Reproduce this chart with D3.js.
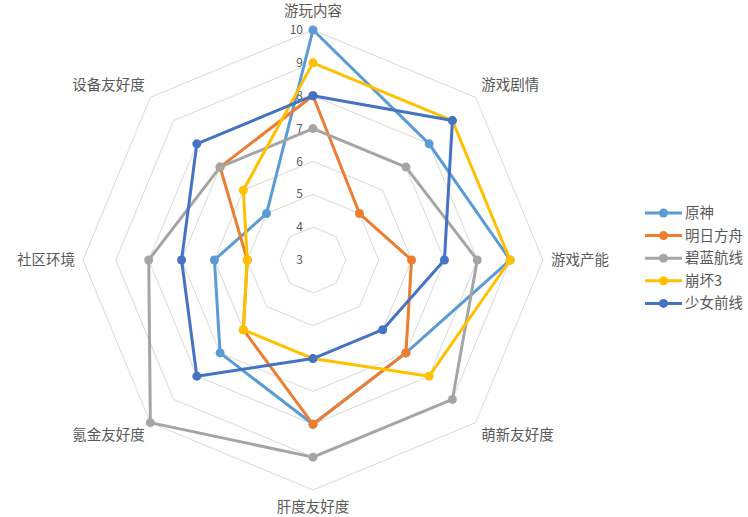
<!DOCTYPE html>
<html>
<head>
<meta charset="utf-8">
<script src="https://cdn.jsdelivr.net/npm/d3@7"></script>
<style>
  body { margin: 0; background: #fff; }
  text { font-family: "Noto Sans CJK SC", "Noto Sans", sans-serif; fill: #595959; }
</style>
</head>
<body>
<div id="chart"></div>
<script>
// axes, clockwise from the top
var axes = ["游玩内容", "游戏剧情", "游戏产能", "萌新友好度", "肝度友好度", "氪金友好度", "社区环境", "设备友好度"];
var ticks = [3, 4, 5, 6, 7, 8, 9, 10];

var seriesNames = ["原神", "明日方舟", "碧蓝航线", "崩坏3", "少女前线"];
var yuanshen = [10, 8, 9, 7, 8, 7, 6, 5];
var mingri = [8, 5, 6, 7, 8, 6, 5, 7];
var bilan = [7, 7, 8, 9, 9, 10, 8, 7];
var benghuai = [9, 9, 9, 8, 6, 6, 5, 6];
var shaonv = [8, 9, 7, 6, 6, 8, 7, 8];
var colors = ["#5B9BD5", "#ED7D31", "#A5A5A5", "#FFC000", "#4472C4"];

var series = [yuanshen, mingri, bilan, benghuai, shaonv];

var width = 748, height = 517;
var cx = 313, cy = 260, R = 230;

var svg = d3.select("#chart")
  .append("svg")
  .attr("width", width)
  .attr("height", height);

var r = d3.scaleLinear().domain([3, 10]).range([0, R]);
var angle = d3.scalePoint().domain(d3.range(axes.length)).range([0, 2 * Math.PI * (axes.length - 1) / axes.length]);

function pt(i, v) {
  var a = angle(i);
  return [cx + r(v) * Math.sin(a), cy - r(v) * Math.cos(a)];
}

// grid octagons
var grid = svg.append("g");
ticks.filter(function(t) { return t > 3; }).forEach(function(t) {
  grid.append("path")
    .attr("d", d3.line()(axes.map(function(_, i) { return pt(i, t); })) + "Z")
    .attr("fill", "none")
    .attr("stroke", "#D9D9D9")
    .attr("stroke-width", 1);
});

// tick labels along the top axis
svg.append("g").selectAll("text")
  .data(ticks)
  .enter()
  .append("text")
  .attr("x", cx - 10)
  .attr("y", function(d) { return cy - r(d); })
  .attr("dy", "0.35em")
  .attr("text-anchor", "end")
  .style("font-size", "12px")
  .text(function(d) { return d; });

// axis labels
svg.append("g").selectAll("text")
  .data(axes)
  .enter()
  .append("text")
  .attr("x", function(d, i) {
    var s = Math.sin(angle(i));
    return pt(i, 10)[0] + s * 8;
  })
  .attr("y", function(d, i) {
    var c = Math.cos(angle(i));
    // top label sits a little higher to clear the "10" tick
    return pt(i, 10)[1] - c * (i === 0 ? 19.5 : 17);
  })
  .attr("dy", "0.35em")
  .attr("text-anchor", function(d, i) {
    var s = Math.sin(angle(i));
    return s > 0.1 ? "start" : (s < -0.1 ? "end" : "middle");
  })
  .style("font-size", "14.5px")
  .text(function(d) { return d; });

// series lines and markers
series.forEach(function(vals, k) {
  var g = svg.append("g");
  var pts = vals.map(function(v, i) { return pt(i, v); });
  g.append("path")
    .attr("d", d3.line()(pts) + "Z")
    .attr("fill", "none")
    .attr("stroke", colors[k])
    .attr("stroke-width", 3)
    .attr("stroke-linejoin", "round");
  g.selectAll("circle")
    .data(pts)
    .enter()
    .append("circle")
    .attr("cx", function(d) { return d[0]; })
    .attr("cy", function(d) { return d[1]; })
    .attr("r", 4.5)
    .attr("fill", colors[k]);
});

// legend
var legend = svg.append("g");
seriesNames.forEach(function(name, k) {
  var y = 213 + k * 22.6;
  legend.append("line")
    .attr("x1", 645).attr("x2", 682)
    .attr("y1", y).attr("y2", y)
    .attr("stroke", colors[k])
    .attr("stroke-width", 3);
  legend.append("circle")
    .attr("cx", 663.5).attr("cy", y)
    .attr("r", 4.5)
    .attr("fill", colors[k]);
  legend.append("text")
    .attr("x", 685)
    .attr("y", y)
    .attr("dy", "0.35em")
    .style("font-size", "14.5px")
    .text(name);
});
</script>
</body>
</html>
